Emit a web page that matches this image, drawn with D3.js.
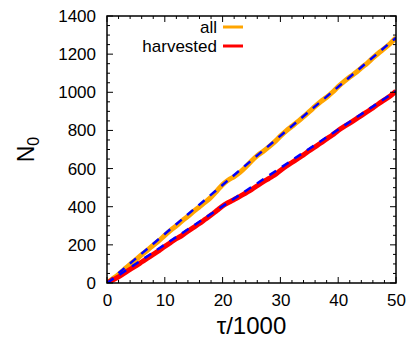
<!DOCTYPE html>
<html>
<head>
<meta charset="utf-8">
<script src="https://cdn.jsdelivr.net/npm/d3@7/dist/d3.min.js"></script>
<style>
  html, body { margin: 0; padding: 0; background: #fff; }
  svg { display: block; font-family: "Liberation Sans", Arial, sans-serif; }
</style>
</head>
<body>
<svg id="chart" width="409" height="339"></svg>
<script>
// time in units of 1000 steps
const tau = d3.range(0, 51);
// N0 for all particles
const nAll = [0, 22, 45, 72, 98, 122, 148, 172, 198, 222,
  250, 276, 300, 326, 350, 376, 400, 424, 450, 482,
  516, 540, 558, 580, 608, 640, 668, 690, 714, 740,
  770, 798, 822, 846, 872, 898, 926, 952, 974, 1000,
  1030, 1056, 1080, 1102, 1128, 1152, 1180, 1206, 1230, 1256, 1286];
// N0 for harvested particles
const nHarvested = [0, 16, 32, 52, 72, 90, 110, 130, 150, 170,
  192, 212, 232, 250, 272, 292, 312, 334, 356, 380,
  404, 422, 438, 454, 472, 490, 510, 530, 548, 566,
  590, 612, 632, 652, 672, 694, 714, 734, 756, 776,
  800, 820, 838, 858, 878, 898, 918, 940, 960, 980, 1006];
// linear fits: [tau, N0] end points
const fitAll = [[0, 0], [50, 1286]];
const fitHarvested = [[0, 0], [50, 1006]];

const xTicks = [0, 10, 20, 30, 40, 50];
const yTicks = [0, 200, 400, 600, 800, 1000, 1200, 1400];
const legendLabels = ["all", "harvested"];

const svg = d3.select("#chart");
const L = 107, R = 396, T = 16, B = 283;
const x = d3.scaleLinear().domain([0, 50]).range([L, R]);
const y = d3.scaleLinear().domain([0, 1400]).range([B, T]);

svg.append("clipPath").attr("id", "plotclip")
  .append("rect").attr("x", L).attr("y", T).attr("width", R - L).attr("height", B - T);

const plot = svg.append("g").attr("clip-path", "url(#plotclip)");
const line = d3.line().x(d => x(d[0])).y(d => y(d[1])).curve(d3.curveMonotoneX);

function drawSeries(vals, color, fit) {
  plot.append("path")
    .datum(tau.map((t, i) => [t, vals[i]]))
    .attr("d", line)
    .attr("fill", "none")
    .attr("stroke", color)
    .attr("stroke-width", 5)
    .attr("stroke-linejoin", "round");
  plot.append("path")
    .datum(fit)
    .attr("d", d3.line().x(d => x(d[0])).y(d => y(d[1])))
    .attr("fill", "none")
    .attr("stroke", "#0000ff")
    .attr("stroke-width", 2.5)
    .attr("stroke-dasharray", "8,7");
}
drawSeries(nAll, "#ffa500", fitAll);
drawSeries(nHarvested, "#ff0000", fitHarvested);

// axes with inward ticks on all sides
const minorX = d3.range(0, 51, 2);
const minorY = d3.range(0, 1401, 50);
const ax = svg.append("g").attr("stroke", "#000").attr("stroke-width", 1);
minorX.forEach(v => {
  const len = v % 10 === 0 ? 6 : 3;
  ax.append("line").attr("x1", x(v)).attr("x2", x(v)).attr("y1", B).attr("y2", B - len);
  ax.append("line").attr("x1", x(v)).attr("x2", x(v)).attr("y1", T).attr("y2", T + len);
});
minorY.forEach(v => {
  const len = v % 200 === 0 ? 6 : 3;
  ax.append("line").attr("y1", y(v)).attr("y2", y(v)).attr("x1", L).attr("x2", L + len);
  ax.append("line").attr("y1", y(v)).attr("y2", y(v)).attr("x1", R).attr("x2", R - len);
});
svg.append("rect").attr("x", L).attr("y", T).attr("width", R - L).attr("height", B - T)
  .attr("fill", "none").attr("stroke", "#000").attr("stroke-width", 1.5);

const bottom = svg.append("g").attr("transform", `translate(0,${B})`)
  .call(d3.axisBottom(x).tickValues(xTicks).tickSize(0).tickPadding(11).tickFormat(d3.format("d")));
bottom.select(".domain").remove();
bottom.selectAll("text").attr("font-size", 17).attr("font-family", "Liberation Sans, Arial, sans-serif").attr("fill", "#000");

const left = svg.append("g").attr("transform", `translate(${L},0)`)
  .call(d3.axisLeft(y).tickValues(yTicks).tickSize(0).tickPadding(11).tickFormat(d3.format("d")));
left.select(".domain").remove();
left.selectAll("text").attr("font-size", 17).attr("font-family", "Liberation Sans, Arial, sans-serif").attr("fill", "#000");

// axis titles
svg.append("text").attr("x", (L + R) / 2).attr("y", 334).attr("text-anchor", "middle")
  .attr("font-size", 24).text("τ/1000");
const yl = svg.append("text").attr("transform", `translate(34,${(T + B) / 2}) rotate(-90)`)
  .attr("text-anchor", "middle").attr("font-size", 23);
yl.append("tspan").text("N");
yl.append("tspan").attr("font-size", 16).attr("dy", 5).text("0");

// legend
const legColors = ["#ffa500", "#ff0000"];
legendLabels.forEach((lab, i) => {
  const ly = 27 + i * 19;
  svg.append("text").attr("x", 217).attr("y", ly + 6).attr("text-anchor", "end")
    .attr("font-size", 17).text(lab);
  svg.append("line").attr("x1", 223).attr("x2", 243).attr("y1", ly).attr("y2", ly)
    .attr("stroke", legColors[i]).attr("stroke-width", 3);
});
</script>
</body>
</html>
